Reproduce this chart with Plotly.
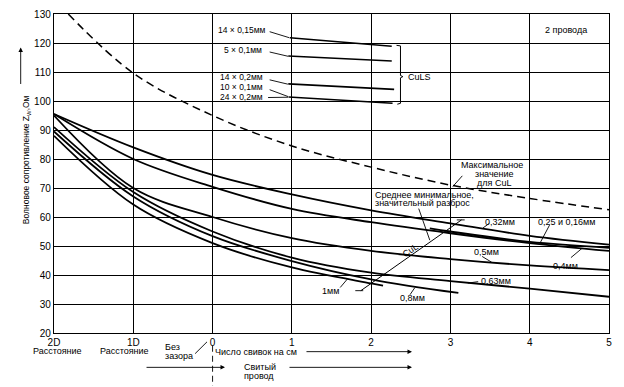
import plotly.graph_objects as go

# ---------------- data ----------------
x_ticks = [-2, -1, 0, 1, 2, 3, 4, 5]
x_ticktext = ["2D", "1D", "0", "1", "2", "3", "4", "5"]
y_ticks = [20, 30, 40, 50, 60, 70, 80, 90, 100, 110, 120, 130]

x_full = [-2, -1, 0, 1, 2, 3, 4, 5]
z_032 = [95.5, 84.0, 74.5, 67.8, 62.3, 57.8, 53.5, 50.5]
z_04 = [95.5, 80.0, 70.4, 62.8, 58.2, 54.4, 51.0, 48.3]
z_05 = [95.0, 70.0, 60.0, 52.7, 48.3, 45.5, 43.3, 41.7]
z_063 = [91.0, 68.6, 55.0, 46.0, 40.8, 37.9, 35.3, 32.5]
x_08 = [-2, -1, 0, 1, 2, 3.1]
z_08 = [89.5, 67.1, 53.4, 44.8, 38.5, 33.8]
x_1 = [-2, -1, 0, 1, 2, 2.15]
z_1 = [88.0, 64.3, 51.0, 42.6, 37.1, 36.3]
x_025 = [2.74, 3, 4, 5]
z_025 = [56.1, 55.0, 51.4, 49.4]

x_max = [-1.82, -1, 0, 1, 2, 3, 4, 5]
z_max = [130, 109.6, 95.0, 84.5, 77.2, 71.0, 66.4, 62.5]

# CuLS short lines: start x, end x, start z, end z
culs_x0 = [0.975, 0.955, 0.955, 0.96]
culs_x1 = [2.26, 2.26, 2.29, 2.27]
culs_z0 = [121.8, 115.5, 105.9, 101.4]
culs_z1 = [118.9, 113.8, 104.0, 99.2]

# CuL range line (diagonal)
cul_x = [1.87, 3.14]
cul_z = [34.6, 59.0]

FONT = "Liberation Sans, Arial, sans-serif"
fig = go.Figure()

def curve(x, y, dash="solid", width=1.8):
    fig.add_trace(go.Scatter(x=x, y=y, mode="lines",
                             line=dict(color="black", width=width, dash=dash,
                                       shape="spline", smoothing=1.0),
                             hoverinfo="skip", showlegend=False))

curve(x_full, z_032)
curve(x_full, z_04)
curve(x_full, z_05)
curve(x_full, z_063)
curve(x_08, z_08)
curve(x_1, z_1)
curve(x_025, z_025)
curve(x_max, z_max, dash="8px,5px", width=1.5)

for x0, x1, z0, z1 in zip(culs_x0, culs_x1, culs_z0, culs_z1):
    fig.add_trace(go.Scatter(x=[x0, x1], y=[z0, z1], mode="lines",
                             line=dict(color="black", width=1.6),
                             hoverinfo="skip", showlegend=False))

fig.add_trace(go.Scatter(x=cul_x, y=cul_z, mode="lines",
                         line=dict(color="black", width=1.0),
                         hoverinfo="skip", showlegend=False))

def seg(x0, y0, x1, y1, yref="y", width=0.9, dash="solid"):
    fig.add_shape(type="line", x0=x0, y0=y0, x1=x1, y1=y1, xref="x", yref=yref,
                  line=dict(color="black", width=width, dash=dash))

def txt(x, y, s, size=9, xanchor="center", yref="y", angle=0):
    fig.add_annotation(x=x, y=y, xref="x", yref=yref, text=s, showarrow=False,
                       xanchor=xanchor, yanchor="middle", textangle=angle,
                       font=dict(family=FONT, size=size, color="black"))

# small end ticks of the CuL line
seg(1.80, cul_z[0], 1.90, cul_z[0])
seg(3.08, cul_z[1], 3.18, cul_z[1])
txt(2.50, 48.6, "CuL", size=9, angle=-34)

# curve labels with leaders
txt(3.63, 58.4, "0,32мм"); seg(3.41, 56.2, 3.49, 57.8)
txt(4.46, 58.4, "0,25 и 0,16мм"); seg(4.25, 57.2, 4.13, 51.0)
txt(4.45, 43.0, "0,4мм"); seg(4.52, 46.0, 4.66, 49.2)
txt(3.45, 48.1, "0,5мм"); seg(3.40, 46.4, 3.52, 44.4)
txt(3.58, 38.0, "0,63мм"); seg(3.35, 37.7, 3.22, 37.2)
txt(2.52, 31.9, "0,8мм"); seg(2.49, 33.2, 2.55, 35.6)
txt(1.49, 34.6, "1мм"); seg(1.61, 35.7, 1.70, 38.6)

# maximum value label
txt(3.53, 77.9, "Максимальное")
txt(3.55, 74.8, "значение")
txt(3.55, 71.8, "для CuL")
seg(3.03, 70.5, 3.15, 74.2)

# average minimum label
txt(2.02, 67.7, "Среднее минимальное,", xanchor="left")
txt(2.02, 65.0, "значительный разброс", xanchor="left")
seg(2.60, 62.9, 2.74, 52.0)

# CuLS labels with leaders
lab_x = [0.37, 0.38, 0.36, 0.36, 0.36]
lab_z = [124.6, 117.7, 108.2, 104.7, 101.3]
lab_t = ["14 × 0,15мм", "5 × 0,1мм", "14 × 0,2мм", "10 × 0,1мм", "24 × 0,2мм"]
for lx, lz, lt in zip(lab_x, lab_z, lab_t):
    txt(lx, lz, lt, size=8.5)
seg(0.72, 123.9, 0.97, 121.8)
seg(0.72, 116.9, 0.955, 115.4)
seg(0.72, 107.3, 0.95, 105.8)
seg(0.72, 103.9, 0.955, 101.5)
seg(0.70, 101.2, 0.955, 101.3)

# bracket for CuLS
fig.add_shape(type="path", xref="x", yref="y",
              path="M 2.32 119.2 L 2.37 119.0 L 2.37 108.8 L 2.40 108.4 L 2.37 108.0 "
                   "L 2.37 99.2 L 2.33 98.9",
              line=dict(color="black", width=1.0))
txt(2.44, 108.4, "CuLS", xanchor="left")
txt(4.17, 124.4, "2 провода", xanchor="left")

# ---------------- below the axis ----------------
def pyp(py):
    return (333 - py) / 325.0

txt(-1.95, pyp(351), "Расстояние", yref="paper")
txt(-1.105, pyp(351), "Расстояние", yref="paper")
txt(-0.625, pyp(347), "Без", xanchor="left", yref="paper")
txt(-0.625, pyp(356), "зазора", xanchor="left", yref="paper")
seg(-0.22, pyp(354), -0.07, pyp(342), yref="paper")
seg(0.0, pyp(346), 0.0, pyp(387), yref="paper", dash="6px,4px")
txt(0.01, pyp(352), "Число свивок на см", xanchor="left", yref="paper")
txt(-2.01, pyp(368), "Параллельное", xanchor="left", yref="paper")
txt(-2.01, pyp(377), "расположение", xanchor="left", yref="paper")
txt(0.37, pyp(368), "Свитый", xanchor="left", yref="paper")
txt(0.37, pyp(377), "провод", xanchor="left", yref="paper")

def arrow(xhead, py, length):
    fig.add_annotation(x=xhead, y=pyp(py), xref="x", yref="paper", ax=-length, ay=0,
                       axref="pixel", ayref="pixel", text="", showarrow=True,
                       arrowhead=2, arrowsize=1, arrowwidth=0.9, arrowcolor="black")

arrow(2.515, 352, 107)
arrow(0.157, 368, 80)
arrow(2.515, 368, 124)

# y axis title with arrow
fig.add_annotation(x=-0.064, y=0.545, xref="paper", yref="paper",
                   text="Волновое сопротивление Z<sub>W</sub>,Ом", showarrow=False,
                   textangle=-90, font=dict(family=FONT, size=8.5, color="black"))
fig.add_annotation(x=-0.06, y=0.895, xref="paper", yref="paper", ax=0, ay=38,
                   axref="pixel", ayref="pixel", text="", showarrow=True,
                   arrowhead=2, arrowsize=1, arrowwidth=0.9, arrowcolor="black")

fig.update_layout(
    width=624, height=387,
    margin=dict(l=54, r=15, t=8, b=54),
    paper_bgcolor="white", plot_bgcolor="white",
    font=dict(family=FONT, size=10, color="black"),
    showlegend=False,
)
fig.update_xaxes(range=[-2, 5], tickvals=x_ticks, ticktext=x_ticktext,
                 showgrid=True, gridcolor="black", gridwidth=1.2,
                 showline=True, linecolor="black", linewidth=1.4, mirror=True,
                 zeroline=False, ticks="", tickfont=dict(size=10))
fig.update_yaxes(range=[20, 130], tickvals=y_ticks,
                 showgrid=True, gridcolor="black", gridwidth=1.2,
                 showline=True, linecolor="black", linewidth=1.4, mirror=True,
                 zeroline=False, ticks="", tickfont=dict(size=10))

# remove the default 8px body margin so the figure fills the window exactly
fig.write_html("out.html", include_plotlyjs=True,
               config={"displayModeBar": False},
               post_script="document.body.style.margin='0px';")
